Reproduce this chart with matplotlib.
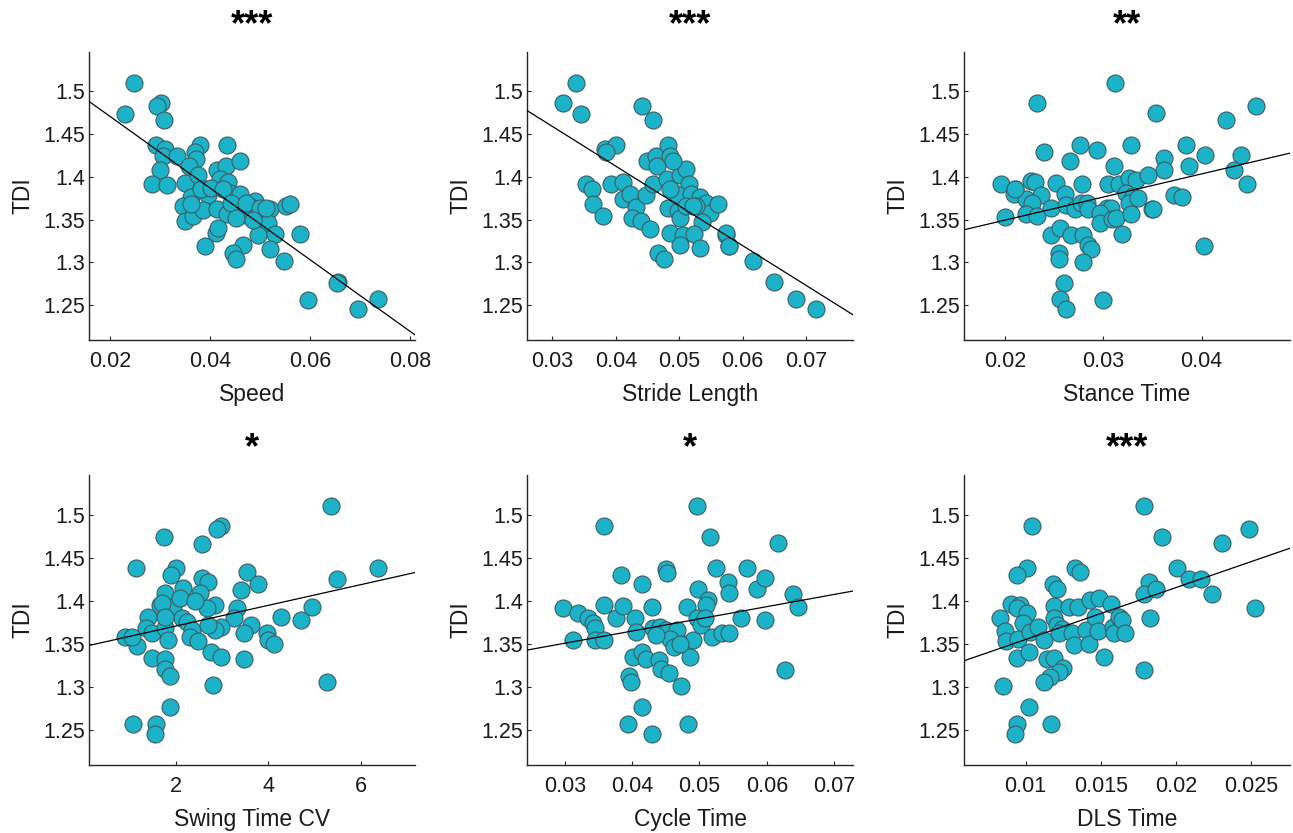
import numpy as np
import matplotlib
matplotlib.use("Agg")
import matplotlib.pyplot as plt

plt.rcParams['font.family'] = ['Liberation Sans', 'DejaVu Sans']

# ---------------- data ----------------
speed_x = [0.0291,0.0309,0.0305,0.0333,0.038,0.0433,0.0369,0.0371,0.0357,0.0413,0.0431,0.046,0.03,0.0283,0.0313,0.035,0.0375,0.0419,0.0435,0.0392,0.0362,0.0395,0.0439,0.0459,0.0489,0.0482,0.0345,0.0349,0.0365,0.0385,0.0413,0.0433,0.0465,0.0499,0.0519,0.0552,0.056,0.0515,0.0412,0.0415,0.0495,0.0529,0.0579,0.0389,0.0465,0.0445,0.0451,0.0519,0.0547,0.0247,0.0229,0.0301,0.0294,0.0307,0.0655,0.0653,0.0595,0.0735,0.0695,0.0382,0.0402,0.0425,0.0442,0.0472,0.0499,0.0452,0.0485,0.0512,0.0362]
speed_y = [1.4376,1.4325,1.4239,1.4246,1.4376,1.4376,1.4286,1.4207,1.4129,1.4082,1.4129,1.4188,1.4078,1.3913,1.3905,1.3925,1.4019,1.3972,1.3933,1.3854,1.3764,1.3783,1.3807,1.3795,1.3717,1.365,1.3658,1.3481,1.354,1.3611,1.3619,1.356,1.3548,1.3571,1.3619,1.3658,1.3677,1.3462,1.3344,1.3403,1.3324,1.3336,1.3336,1.3195,1.3206,1.3108,1.3038,1.3155,1.301,1.5102,1.4737,1.4867,1.4827,1.4662,1.2767,1.2757,1.2559,1.2571,1.2449,1.3862,1.3874,1.3854,1.3697,1.3697,1.3638,1.352,1.35,1.3638,1.3677]

stride_x = [0.0337,0.0316,0.0345,0.0442,0.0459,0.0684,0.065,0.0617,0.0578,0.0574,0.0467,0.0476,0.0353,0.0362,0.0364,0.038,0.0383,0.0401,0.0393,0.0412,0.0411,0.0422,0.0432,0.0425,0.0439,0.0454,0.0448,0.0458,0.0449,0.0463,0.0465,0.0482,0.0485,0.0481,0.0501,0.051,0.0516,0.0496,0.0482,0.0498,0.0501,0.0519,0.0532,0.0543,0.0548,0.0536,0.0561,0.0527,0.0511,0.0485,0.0506,0.0523,0.0501,0.0533,0.0573,0.0579,0.0385,0.049,0.0486,0.0522,0.0716]
stride_y = [1.5102,1.4867,1.4737,1.4823,1.4659,1.2571,1.2763,1.301,1.3195,1.3324,1.3108,1.3038,1.3913,1.3854,1.3685,1.354,1.4325,1.4372,1.3921,1.394,1.3736,1.3795,1.3646,1.352,1.3481,1.3391,1.3783,1.3913,1.4188,1.4246,1.4129,1.4372,1.4246,1.3972,1.4019,1.409,1.3913,1.3795,1.3638,1.3599,1.352,1.3795,1.3764,1.3697,1.3579,1.3469,1.3677,1.3658,1.3658,1.3344,1.3324,1.3332,1.3206,1.3167,1.3344,1.3187,1.4286,1.4188,1.3854,1.3658,1.2457]

stance_x = [0.0312,0.0232,0.0354,0.0425,0.0455,0.0239,0.0276,0.0293,0.0328,0.0266,0.0311,0.0362,0.0362,0.0384,0.0403,0.0387,0.044,0.0433,0.0446,0.0196,0.021,0.0209,0.0226,0.023,0.0236,0.0221,0.0227,0.02,0.0221,0.0232,0.0247,0.0252,0.0261,0.0262,0.0271,0.0278,0.0277,0.0283,0.0284,0.0305,0.0316,0.0326,0.0333,0.0345,0.0323,0.033,0.0326,0.0304,0.0308,0.0296,0.0297,0.0309,0.0313,0.0328,0.0349,0.035,0.0372,0.038,0.0247,0.0256,0.0267,0.0279,0.0284,0.0287,0.0255,0.0255,0.0279,0.026,0.0256,0.0262,0.03,0.0402,0.0319,0.021,0.0335]
stance_y = [1.5102,1.4863,1.4745,1.4666,1.4827,1.4294,1.4376,1.4317,1.4376,1.4188,1.4129,1.4215,1.4082,1.4376,1.4254,1.4129,1.4254,1.4082,1.3913,1.3913,1.3862,1.3795,1.3952,1.3944,1.3787,1.3744,1.3697,1.3532,1.356,1.354,1.3638,1.3925,1.3795,1.3666,1.3626,1.3921,1.3697,1.3697,1.3626,1.3913,1.3913,1.3991,1.3964,1.4019,1.3815,1.3776,1.3697,1.3638,1.3638,1.3579,1.3462,1.3501,1.352,1.3568,1.3619,1.3619,1.3783,1.3768,1.3324,1.3403,1.3316,1.3324,1.3206,1.3159,1.3108,1.3042,1.3002,1.2755,1.2571,1.2449,1.2559,1.3187,1.3332,1.3854,1.3756]

swing_x = [5.36,1.75,2.98,2.89,2.58,1.14,2.0,1.91,3.54,3.79,3.41,2.56,2.71,2.17,2.53,1.77,1.95,1.66,2.85,2.68,3.32,3.27,3.62,4.28,4.70,4.94,5.48,6.38,0.90,1.16,1.41,1.37,1.48,1.77,1.84,2.13,2.24,2.35,2.31,2.48,2.99,2.85,2.71,3.48,3.97,3.99,4.13,1.48,1.77,1.77,1.88,2.76,2.97,3.48,2.81,1.88,1.08,1.57,1.55,5.28,2.09,2.42,1.70,1.77,1.05]
swing_y = [1.5102,1.4745,1.4867,1.4827,1.4659,1.4384,1.4376,1.4294,1.4333,1.4188,1.4129,1.4266,1.4215,1.4148,1.4089,1.4089,1.3925,1.3952,1.3952,1.3913,1.3913,1.3795,1.3717,1.3815,1.3776,1.3921,1.4246,1.4384,1.3579,1.3469,1.3815,1.3677,1.3619,1.3677,1.3548,1.3795,1.3756,1.3658,1.3579,1.3532,1.3697,1.3658,1.3717,1.3626,1.3626,1.354,1.3493,1.3336,1.3324,1.3206,1.3128,1.3403,1.3344,1.3324,1.3018,1.2767,1.2571,1.2571,1.2449,1.3049,1.4031,1.3991,1.3972,1.3815,1.3579]

cycle_x = [0.0496,0.0358,0.0515,0.0617,0.0525,0.0383,0.0415,0.0451,0.0452,0.057,0.0542,0.0544,0.0585,0.0597,0.0498,0.0513,0.051,0.0639,0.0647,0.0297,0.032,0.0334,0.0342,0.0345,0.0312,0.0359,0.0376,0.0387,0.0404,0.0406,0.0429,0.0431,0.0441,0.0451,0.0466,0.0481,0.0496,0.0475,0.0491,0.0503,0.0508,0.0518,0.0533,0.0544,0.0562,0.0597,0.0345,0.0358,0.0402,0.0414,0.042,0.044,0.0443,0.0455,0.0473,0.0486,0.0396,0.0398,0.0415,0.0394,0.043,0.0483,0.0627,0.0456,0.0462,0.0471,0.0436]
cycle_y = [1.5102,1.4867,1.4745,1.4666,1.4376,1.4294,1.4195,1.4372,1.4325,1.4376,1.4215,1.4089,1.4137,1.4266,1.4137,1.4011,1.3952,1.4082,1.3925,1.3913,1.3854,1.3795,1.3736,1.3677,1.3548,1.3952,1.3795,1.394,1.3795,1.3638,1.3925,1.3677,1.3697,1.3658,1.3658,1.3925,1.3795,1.3501,1.354,1.3717,1.3795,1.3579,1.3619,1.3619,1.3795,1.3776,1.3548,1.354,1.3344,1.3403,1.3324,1.3312,1.3206,1.3159,1.301,1.3344,1.312,1.305,1.2763,1.2571,1.2449,1.2571,1.3199,1.356,1.3462,1.3501,1.3599]

dls_x = [0.0179,0.0104,0.0191,0.0231,0.0249,0.0101,0.0094,0.0133,0.0136,0.0118,0.0121,0.0201,0.0209,0.0217,0.0182,0.0179,0.0187,0.0224,0.0253,0.0183,0.0083,0.009,0.0096,0.0094,0.0101,0.0098,0.0086,0.0087,0.0095,0.0103,0.0108,0.0112,0.0119,0.0129,0.0135,0.0119,0.0121,0.0124,0.0122,0.0131,0.0132,0.014,0.0142,0.0143,0.0149,0.0157,0.0146,0.0148,0.0158,0.0159,0.0162,0.0164,0.0166,0.0094,0.0102,0.0114,0.0119,0.0125,0.0122,0.0116,0.0112,0.0152,0.0085,0.0102,0.0094,0.0093,0.0117,0.0179]
dls_y = [1.5102,1.4863,1.4745,1.4666,1.4827,1.4376,1.4294,1.4376,1.4333,1.4195,1.4137,1.4376,1.4254,1.4254,1.4215,1.4082,1.4137,1.4082,1.3913,1.3795,1.3795,1.396,1.3952,1.3913,1.3854,1.3744,1.365,1.3532,1.356,1.3638,1.3697,1.3548,1.394,1.3921,1.3925,1.3795,1.3717,1.3666,1.3619,1.3619,1.3481,1.3658,1.3501,1.4011,1.4031,1.3964,1.3815,1.365,1.3697,1.3626,1.3815,1.3776,1.3619,1.3336,1.3403,1.3324,1.3336,1.3218,1.3167,1.3108,1.305,1.3344,1.301,1.2767,1.2571,1.2453,1.2571,1.3199]

x_labels = ["Speed", "Stride Length", "Stance Time", "Swing Time CV", "Cycle Time", "DLS Time"]
significance = ["***", "***", "**", "*", "*", "***"]
y_label = "TDI"
y_ticks = [1.25, 1.3, 1.35, 1.4, 1.45, 1.5]
x_ticks = [[0.02, 0.04, 0.06, 0.08],
           [0.03, 0.04, 0.05, 0.06, 0.07],
           [0.02, 0.03, 0.04],
           [2, 4, 6],
           [0.03, 0.04, 0.05, 0.06, 0.07],
           [0.01, 0.015, 0.02, 0.025]]
x_limits = [(0.0157, 0.081), (0.026, 0.0774), (0.0158, 0.049),
            (0.13, 7.17), (0.0244, 0.0728), (0.0059, 0.0276)]
y_limits = (1.209, 1.546)

xs = [speed_x, stride_x, stance_x, swing_x, cycle_x, dls_x]
ys = [speed_y, stride_y, stance_y, swing_y, cycle_y, dls_y]

# ---------------- figure ----------------
W, H = 1293, 833
fig = plt.figure(figsize=(W / 100, H / 100), dpi=100)

col_left = [89, 527, 964]
ax_w = 326
row_top = [52, 475]
ax_h = [288, 290]

face = "#1cb3c8"
edge = "#3b5d66"
spine_col = "#262626"

for i in range(6):
    r, c = divmod(i, 3)
    left = col_left[c] / W
    bottom = 1 - (row_top[r] + ax_h[r]) / H
    ax = fig.add_axes([left, bottom, ax_w / W, ax_h[r] / H])
    x = np.array(xs[i])
    y = np.array(ys[i])
    ax.scatter(x, y, s=150, facecolor=face, edgecolor=edge, linewidths=0.8, zorder=3)
    k, b = np.polyfit(x, y, 1)
    xl = np.array(x_limits[i])
    ax.plot(xl, k * xl + b, color="black", lw=0.9, zorder=4)
    ax.set_xlim(*x_limits[i])
    ax.set_ylim(*y_limits)
    ax.set_xticks(x_ticks[i])
    ax.set_xticklabels([f"{t:g}" for t in x_ticks[i]])
    ax.set_yticks(y_ticks)
    ax.set_yticklabels([f"{t:g}" for t in y_ticks])
    for s in ["top", "right"]:
        ax.spines[s].set_visible(False)
    for s in ["left", "bottom"]:
        ax.spines[s].set_color(spine_col)
        ax.spines[s].set_linewidth(1.0)
    ax.tick_params(direction="in", length=3, width=0.8, color=spine_col,
                   labelsize=15.5, labelcolor="#1a1a1a")
    ax.tick_params(axis="y", pad=3)
    ax.tick_params(axis="x", pad=8)
    ax.set_xlabel(x_labels[i], fontsize=16.5, color="#1a1a1a", labelpad=8)
    ax.set_ylabel(y_label, fontsize=16.5, color="#1a1a1a", labelpad=6)
    ax.set_title(significance[i], fontsize=26, fontweight="bold", pad=12)

fig.savefig("out.png", dpi=100)
